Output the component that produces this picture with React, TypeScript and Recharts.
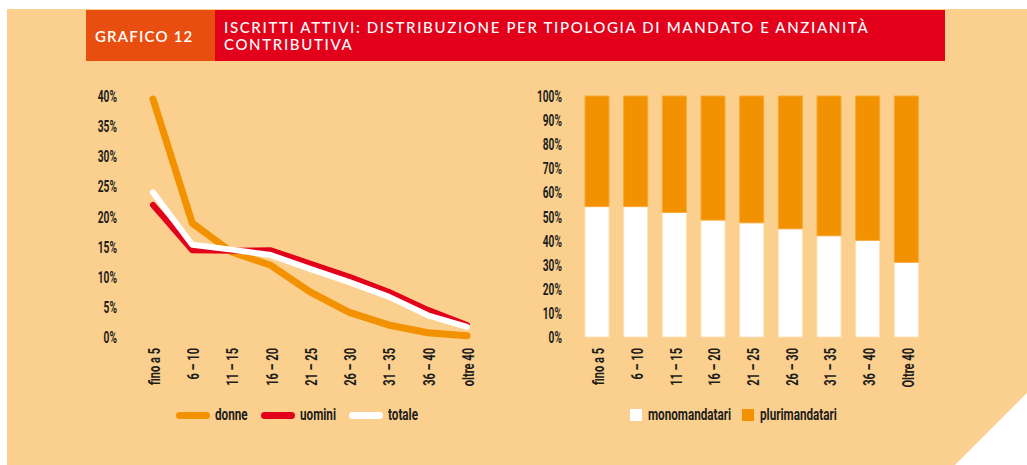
import React from 'react';
import { LineChart, Line, BarChart, Bar, XAxis, YAxis, Legend } from 'recharts';

const categories = ['fino a 5', '6 – 10', '11 – 15', '16 – 20', '21 – 25', '26 – 30', '31 – 35', '36 – 40', 'oltre 40'];
const barCategories = ['fino a 5', '6 – 10', '11 – 15', '16 – 20', '21 – 25', '26 – 30', '31 – 35', '36 – 40', 'Oltre 40'];

const donne = [39.5, 18.9, 14.1, 11.9, 7.5, 4.1, 2.0, 0.7, 0.2];
const uomini = [21.9, 14.4, 14.3, 14.4, 12.2, 10.0, 7.5, 4.5, 2.0];
const totale = [24.0, 15.3, 14.5, 13.6, 11.3, 9.1, 6.7, 3.6, 1.7];

const monomandatari = [54.1, 54.1, 51.7, 48.5, 47.4, 44.9, 42.0, 40.1, 31.0];
const plurimandatari = [45.9, 45.9, 48.3, 51.5, 52.6, 55.1, 58.0, 59.9, 69.0];

const lineTicks = [0, 5, 10, 15, 20, 25, 30, 35, 40];
const barTicks = [0, 10, 20, 30, 40, 50, 60, 70, 80, 90, 100];

const PEACH = '#FBCF8E';
const ORANGE = '#F39200';
const RED = '#E2001A';
const INK = '#1d1d1b';
const FONT = 'Roboto, sans-serif';

const lineSeries = [
  { key: 'donne', color: ORANGE },
  { key: 'uomini', color: RED },
  { key: 'totale', color: '#ffffff' },
];
const barSeries = [
  { key: 'monomandatari', color: '#ffffff' },
  { key: 'plurimandatari', color: ORANGE },
];

const lineData = categories.map((cat, i) => ({
  cat,
  donne: donne[i],
  uomini: uomini[i],
  totale: totale[i],
}));

const barData = barCategories.map((cat, i) => ({
  cat,
  monomandatari: monomandatari[i],
  plurimandatari: plurimandatari[i],
}));

// the original uses a very condensed DIN-like face; squeeze Roboto Bold to match
const YTick = (props: any) => {
  const { x, y, payload } = props;
  return (
    <g transform={`translate(${x},${y}) scale(0.6,1)`}>
      <text textAnchor="end" dominantBaseline="central" fill={INK}
        fontFamily={FONT} fontWeight={700} fontSize={17}>
        {payload.value}%
      </text>
    </g>
  );
};

const XTick = (props: any) => {
  const { x, y, payload } = props;
  return (
    <g transform={`translate(${x + 1},${y}) rotate(-90) scale(0.65,1)`}>
      <text textAnchor="end" dominantBaseline="central" fill={INK}
        fontFamily={FONT} fontWeight={700} fontSize={17}>
        {payload.value}
      </text>
    </g>
  );
};

const SQUEEZE = 0.73;
let ctx: CanvasRenderingContext2D | null = null;
const textWidth = (s: string) => {
  if (!ctx) ctx = document.createElement('canvas').getContext('2d');
  if (!ctx) return s.length * 7;
  ctx.font = `700 16px ${FONT}`;
  return ctx.measureText(s).width * SQUEEZE;
};

const LegendLabel = ({ text }: { text: string }) => (
  <span style={{ display: 'inline-block', width: textWidth(text), whiteSpace: 'nowrap' }}>
    <span style={{
      display: 'inline-block', transform: `scaleX(${SQUEEZE})`, transformOrigin: 'left center',
      fontFamily: FONT, fontWeight: 700, fontSize: 16, color: INK, lineHeight: '20px',
    }}>{text}</span>
  </span>
);

const LineLegend = () => (
  <div style={{ display: 'flex', alignItems: 'center', height: 20, paddingLeft: 116 }}>
    {lineSeries.map((s) => (
      <span key={s.key} style={{ display: 'flex', alignItems: 'center', marginRight: 13 }}>
        <span style={{ width: 34, height: 7, borderRadius: 4, background: s.color, marginRight: 5 }} />
        <LegendLabel text={s.key} />
      </span>
    ))}
  </div>
);

const BarLegend = () => (
  <div style={{ display: 'flex', alignItems: 'center', height: 20, paddingLeft: 130 }}>
    {barSeries.map((s) => (
      <span key={s.key} style={{ display: 'flex', alignItems: 'center', marginRight: 11 }}>
        <span style={{ width: 12, height: 12, background: s.color, marginRight: 6 }} />
        <LegendLabel text={s.key} />
      </span>
    ))}
  </div>
);

export default function App() {
  return (
    <div style={{ position: 'absolute', left: 0, top: 0, width: 1027, height: 465, overflow: 'hidden' }}>
      <div
        style={{
          position: 'absolute', left: 7, top: 9, width: 1020, height: 456, background: PEACH,
          clipPath: 'polygon(0 0, 100% 0, 100% 384px, 948px 100%, 0 100%)',
        }}
      />
      <div style={{
        position: 'absolute', left: 86, top: 10, width: 130, height: 51, background: '#E84E0F',
        color: '#fff', fontFamily: 'Lato, sans-serif', fontWeight: 600, fontSize: 15,
        display: 'flex', alignItems: 'center', paddingLeft: 9, boxSizing: 'border-box', letterSpacing: 1.2,
      }}>
        GRAFICO 12
      </div>
      <div style={{
        position: 'absolute', left: 215, top: 10, width: 730, height: 51, background: RED,
        color: '#fff', fontFamily: 'Lato, sans-serif', fontWeight: 500, fontSize: 15, lineHeight: '17px',
        paddingLeft: 9, paddingTop: 9, boxSizing: 'border-box', letterSpacing: 1.65, whiteSpace: 'nowrap',
      }}>
        ISCRITTI ATTIVI: DISTRIBUZIONE PER TIPOLOGIA DI MANDATO E ANZIANITÀ<br />CONTRIBUTIVA
      </div>

      <div style={{ position: 'absolute', left: 60, top: 80 }}>
        <LineChart width={440} height={360} data={lineData} margin={{ top: 16, right: 33, left: 0, bottom: 15 }}>
          <XAxis dataKey="cat" interval={0} height={68} axisLine={false} tickLine={false}
            tickSize={0} tickMargin={11} tick={<XTick />} />
          <YAxis width={93} domain={[0, 40]} ticks={lineTicks} interval={0} axisLine={false}
            tickLine={false} tickSize={0} tickMargin={36} tick={<YTick />} />
          <Legend verticalAlign="bottom" content={<LineLegend />} />
          <Line dataKey="donne" name="donne" stroke={ORANGE} strokeWidth={7} dot={false}
            strokeLinecap="round" strokeLinejoin="round" isAnimationActive={false} />
          <Line dataKey="uomini" name="uomini" stroke={RED} strokeWidth={6} dot={false}
            strokeLinecap="round" strokeLinejoin="round" isAnimationActive={false} />
          <Line dataKey="totale" name="totale" stroke="#ffffff" strokeWidth={6} dot={false}
            strokeLinecap="round" strokeLinejoin="round" isAnimationActive={false} />
        </LineChart>
      </div>

      <div style={{ position: 'absolute', left: 500, top: 80 }}>
        <BarChart width={460} height={360} data={barData} margin={{ top: 16, right: 34, left: 0, bottom: 15 }}
          barSize={24}>
          <XAxis dataKey="cat" interval={0} height={68} axisLine={false} tickLine={false}
            tickSize={0} tickMargin={11} tick={<XTick />} />
          <YAxis width={78} domain={[0, 100]} ticks={barTicks} interval={0} axisLine={false}
            tickLine={false} tickSize={0} tickMargin={16} tick={<YTick />} />
          <Legend verticalAlign="bottom" content={<BarLegend />} />
          <Bar dataKey="monomandatari" name="monomandatari" stackId="a" fill="#ffffff"
            stroke="#FDE3BA" strokeWidth={1} isAnimationActive={false} />
          <Bar dataKey="plurimandatari" name="plurimandatari" stackId="a" fill={ORANGE}
            stroke="#F6A835" strokeWidth={1} isAnimationActive={false} />
        </BarChart>
      </div>
    </div>
  );
}
